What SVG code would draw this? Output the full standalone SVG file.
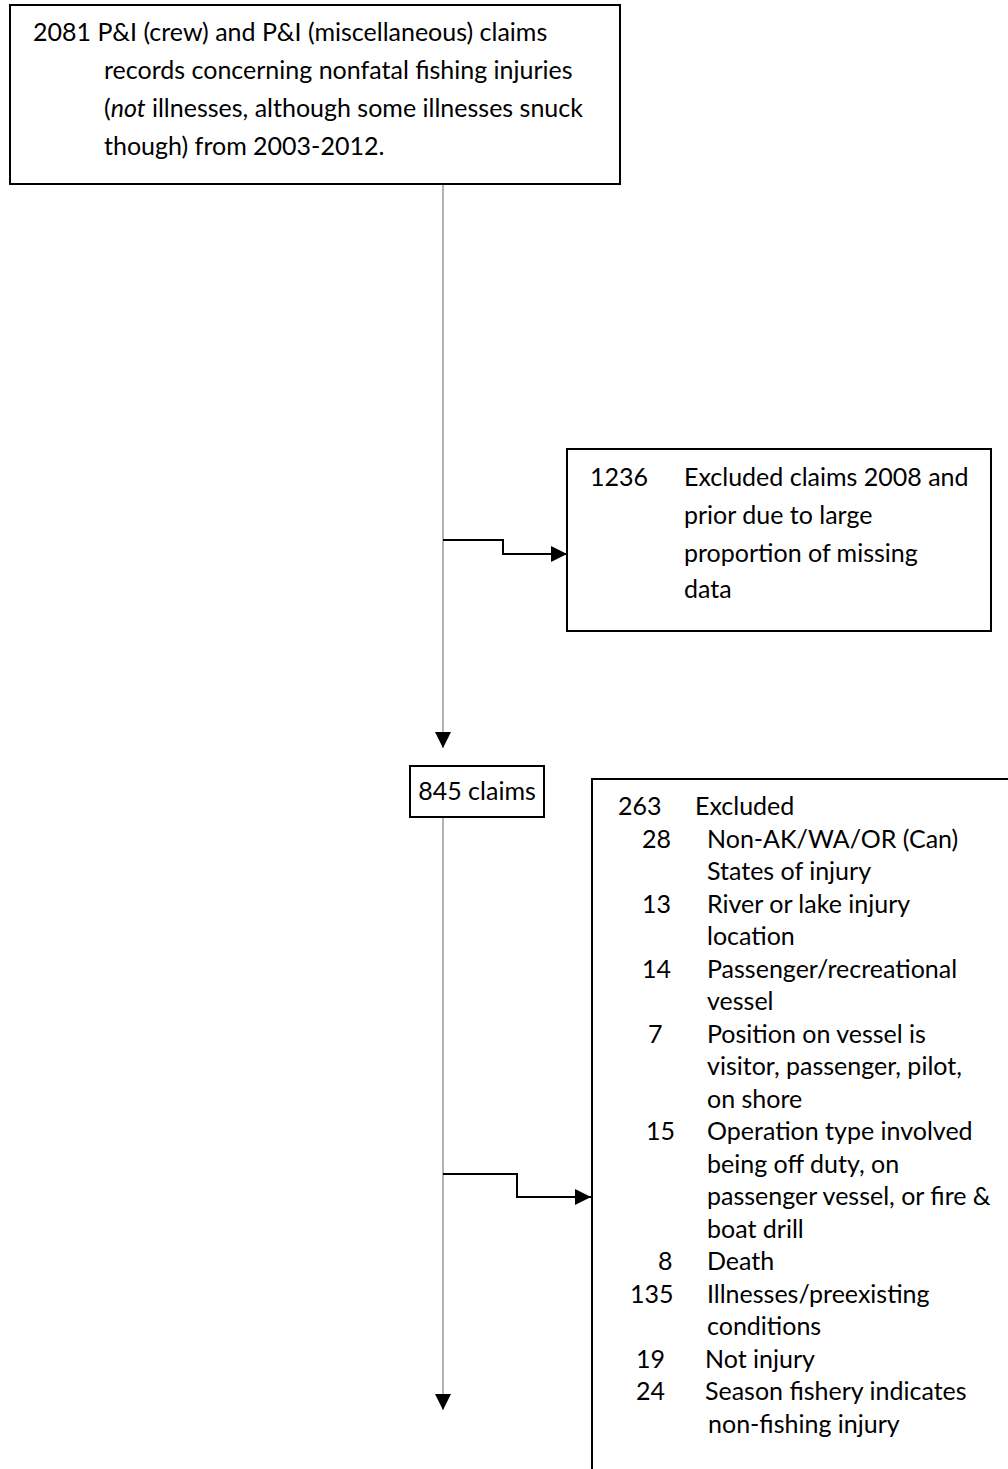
<svg xmlns="http://www.w3.org/2000/svg" width="1008" height="1469" viewBox="0 0 1008 1469">
<defs>
<marker id="ah" markerUnits="userSpaceOnUse" markerWidth="16" markerHeight="16" viewBox="0 0 16 16" refX="16" refY="8" orient="auto">
<path d="M0,0 L16,8 L0,16 Z" fill="#000"/>
</marker>
</defs>
<style>
text{font-family:Lato,"Open Sans","Liberation Sans",sans-serif;font-size:25px;fill:#000}
.box{fill:#fff;stroke:#000;stroke-width:2}
.trunk{fill:none;stroke:#7f7f7f;stroke-width:1.2}
.branch{fill:none;stroke:#000;stroke-width:2}
</style>
<rect width="1008" height="1469" fill="#fff"/>
<g id="connectors">
<path class="trunk" d="M443,184 V748" marker-end="url(#ah)"/>
<path class="branch" d="M443,540 H503 V554 H567" marker-end="url(#ah)"/>
<path class="trunk" d="M443,817 V1410" marker-end="url(#ah)"/>
<path class="branch" d="M443,1174 H517 V1197 H591" marker-end="url(#ah)"/>
</g>
<g id="node-start">
<rect class="box" x="10" y="5" width="610" height="179"/>
<text x="33" y="41">2081 P&amp;I (crew) and P&amp;I (miscellaneous) claims</text>
<text x="104" y="79">records concerning nonfatal fishing injuries</text>
<text x="104" y="117">(<tspan font-style="italic">not</tspan> illnesses, although some illnesses snuck</text>
<text x="104" y="155">though) from 2003-2012.</text>
</g>
<g id="node-excluded1">
<rect class="box" x="567" y="449" width="424" height="182"/>
<text x="590" y="486">1236</text>
<text x="684" y="486">Excluded claims 2008 and</text>
<text x="684" y="524">prior due to large</text>
<text x="684" y="562">proportion of missing</text>
<text x="684" y="598">data</text>
</g>
<g id="node-845">
<rect class="box" x="410" y="766" width="134" height="51"/>
<text x="477" y="800" text-anchor="middle">845 claims</text>
</g>
<g id="node-excluded2">
<rect class="box" x="592" y="779" width="500" height="800"/>
<text x="618" y="815">263</text><text x="695" y="815">Excluded</text>
<text x="642" y="847.5">28</text><text x="707" y="847.5">Non-AK/WA/OR (Can)</text>
<text x="707" y="880">States of injury</text>
<text x="642" y="912.5">13</text><text x="707" y="912.5">River or lake injury</text>
<text x="707" y="945">location</text>
<text x="642" y="977.5">14</text><text x="707" y="977.5">Passenger/recreational</text>
<text x="707" y="1010">vessel</text>
<text x="648" y="1042.5">7</text><text x="707" y="1042.5">Position on vessel is</text>
<text x="707" y="1075">visitor, passenger, pilot,</text>
<text x="707" y="1107.5">on shore</text>
<text x="646" y="1140">15</text><text x="707" y="1140">Operation type involved</text>
<text x="707" y="1172.5">being off duty, on</text>
<text x="707" y="1205">passenger vessel, or fire &amp;</text>
<text x="707" y="1237.5">boat drill</text>
<text x="658" y="1270">8</text><text x="707" y="1270">Death</text>
<text x="630" y="1302.5">135</text><text x="707" y="1302.5">Illnesses/preexisting</text>
<text x="707" y="1335">conditions</text>
<text x="636" y="1367.5">19</text><text x="705" y="1367.5">Not injury</text>
<text x="636" y="1400">24</text><text x="705" y="1400">Season fishery indicates</text>
<text x="708" y="1432.5">non-fishing injury</text>
</g>
</svg>
